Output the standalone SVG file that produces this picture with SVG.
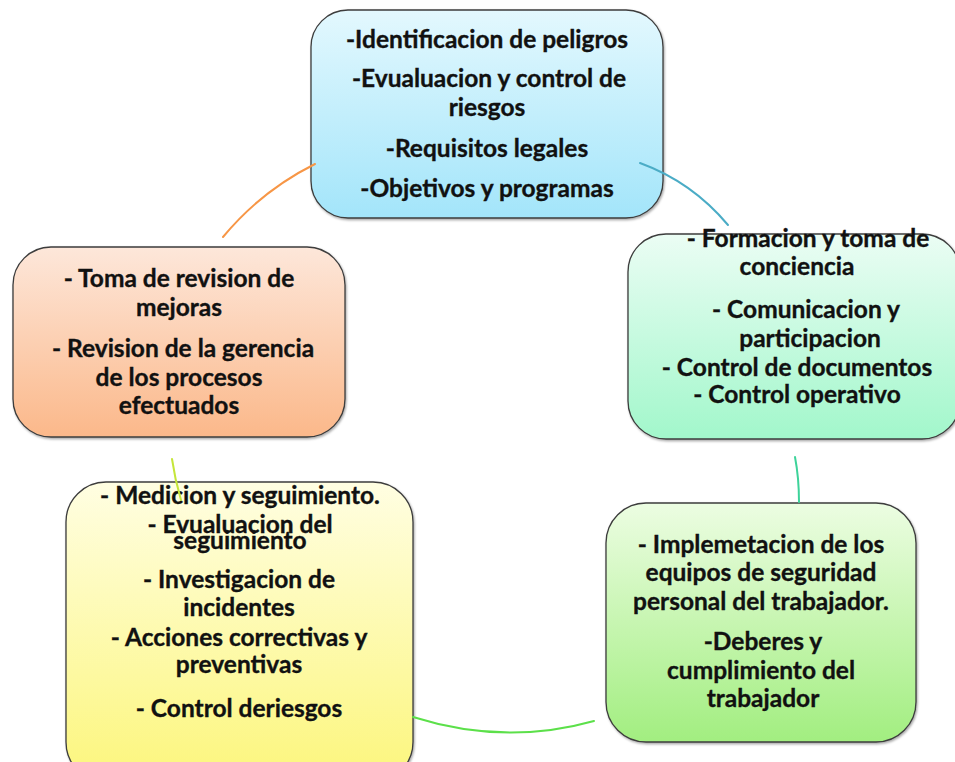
<svg xmlns="http://www.w3.org/2000/svg" width="955" height="762" viewBox="0 0 955 762">
<style>
.box{stroke:#3c3c3c;stroke-width:1.3;filter:url(#sh)}
.t{font-family:Lato,"Open Sans","Liberation Sans",sans-serif;font-weight:bold;font-size:24.5px;fill:#111;stroke:#111;stroke-width:0.35;text-anchor:middle}
.c{fill:none;stroke-width:2;stroke-linecap:round}
</style>
<defs>
<filter id="sh" x="-10%" y="-10%" width="120%" height="120%">
<feDropShadow dx="1" dy="1.5" stdDeviation="1.2" flood-color="#000" flood-opacity="0.35"/>
</filter>
<linearGradient id="gBlue" x1="0" y1="0" x2="0" y2="1"><stop offset="0" stop-color="#e3f8fe"/><stop offset="1" stop-color="#a3e5fa"/></linearGradient>
<linearGradient id="gMint" x1="0" y1="0" x2="0" y2="1"><stop offset="0" stop-color="#ebfdf4"/><stop offset="1" stop-color="#a2f7cb"/></linearGradient>
<linearGradient id="gOrange" x1="0" y1="0" x2="0" y2="1"><stop offset="0" stop-color="#fde7da"/><stop offset="1" stop-color="#fbb88a"/></linearGradient>
<linearGradient id="gYellow" x1="0" y1="0" x2="0" y2="1"><stop offset="0" stop-color="#fffee2"/><stop offset="1" stop-color="#fcf67c"/></linearGradient>
<linearGradient id="gGreen" x1="0" y1="0" x2="0" y2="1"><stop offset="0" stop-color="#ecfde2"/><stop offset="1" stop-color="#a2ee80"/></linearGradient>
</defs>
<rect width="955" height="762" fill="#fff"/>

<g id="node-planificacion">
<rect class="box" x="311" y="10" width="352" height="208" rx="37" fill="url(#gBlue)"/>
<text class="t" x="487" y="48">-Identificacion de peligros</text>
<text class="t" x="489" y="87">-Evualuacion y control de</text>
<text class="t" x="487" y="116">riesgos</text>
<text class="t" x="487" y="157">-Requisitos legales</text>
<text class="t" x="487" y="197">-Objetivos y programas</text>
</g>

<g id="node-implementacion">
<rect class="box" x="628" y="234" width="332" height="205" rx="38" fill="url(#gMint)"/>
<text class="t" x="808" y="247">- Formacion y toma de</text>
<text class="t" x="797" y="275">conciencia</text>
<text class="t" x="806" y="318">- Comunicacion y</text>
<text class="t" x="810" y="347">participacion</text>
<text class="t" x="797" y="376">- Control de documentos</text>
<text class="t" x="797" y="403">- Control operativo</text>
</g>

<g id="node-epp">
<rect class="box" x="606" y="503" width="310" height="239" rx="40" fill="url(#gGreen)"/>
<text class="t" x="761" y="553">- Implemetacion de los</text>
<text class="t" x="761" y="581">equipos de seguridad</text>
<text class="t" x="761" y="610">personal del trabajador.</text>
<text class="t" x="763" y="650">-Deberes y</text>
<text class="t" x="761" y="679">cumplimiento del</text>
<text class="t" x="763" y="707">trabajador</text>
</g>

<g id="node-verificacion">
<rect class="box" x="66" y="482" width="347" height="300" rx="40" fill="url(#gYellow)"/>
<text class="t" x="240" y="504">- Medicion y seguimiento.</text>
<text class="t" x="240" y="533">- Evualuacion del</text>
<text class="t" x="240" y="549">seguimiento</text>
<text class="t" x="239" y="588">- Investigacion de</text>
<text class="t" x="239" y="616">incidentes</text>
<text class="t" x="239" y="646">- Acciones correctivas y</text>
<text class="t" x="239" y="673">preventivas</text>
<text class="t" x="239" y="717">- Control deriesgos</text>
</g>

<g id="node-revision">
<rect class="box" x="13" y="247" width="332" height="190" rx="38" fill="url(#gOrange)"/>
<text class="t" x="179" y="287">- Toma de revision de</text>
<text class="t" x="179" y="316">mejoras</text>
<text class="t" x="183" y="357">- Revision de la gerencia</text>
<text class="t" x="179" y="386">de los procesos</text>
<text class="t" x="179" y="414">efectuados</text>
</g>

<g id="connectors">
<path class="c" stroke="#f79646" d="M223 237 Q261 191 315 164"/>
<path class="c" stroke="#4bacc6" d="M640 163 Q692 182 728 225"/>
<path class="c" stroke="#3dd39a" d="M795 457 Q799 478 799 502"/>
<path class="c" stroke="#5ce04a" d="M413 717 Q505 746 594 721"/>
<path class="c" stroke="#c5e63a" d="M172 459 Q175 480 181 500"/>
</g>
</svg>
